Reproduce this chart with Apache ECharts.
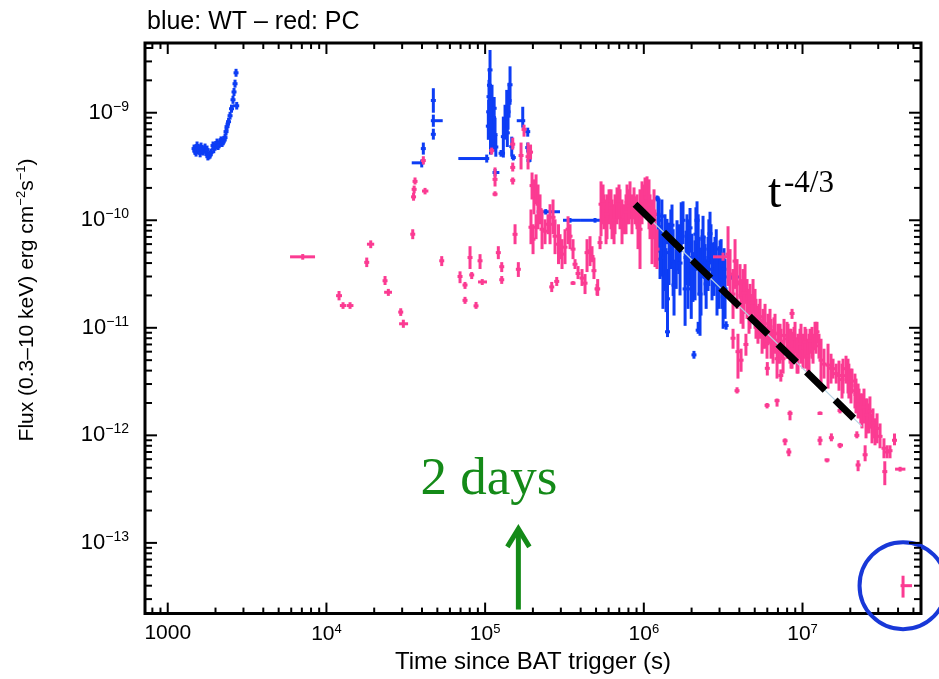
<!DOCTYPE html>
<html><head><meta charset="utf-8">
<script src="https://cdn.jsdelivr.net/npm/echarts@6/dist/echarts.min.js"></script>
<style>html,body{margin:0;padding:0;background:#fff}#c{width:939px;height:679px}</style>
</head><body><div id="c"></div>
<script>
// ---- axis ranges and tick labels ----
const xRange = [719, 5.58e7];
const yRange = [2.2e-14, 4.45e-9];
const xTickExponents = [3, 4, 5, 6, 7];
const yTickExponents = [-13, -12, -11, -10, -9];

// ---- data rows: [time (s), flux, fluxLow, fluxHigh, timeLow, timeHigh] ----
const wtRows = [
 [1465,4.64e-10,4.27e-10,5.06e-10],[1485,4.4e-10,4.05e-10,4.8e-10],[1508,4.26e-10,3.91e-10,4.64e-10],
 [1530,4.95e-10,4.55e-10,5.4e-10],[1555,4.7e-10,4.3e-10,5.1e-10],[1575,4.45e-10,4.09e-10,4.85e-10],
 [1600,4.2e-10,3.85e-10,4.6e-10],[1621,4.84e-10,4.45e-10,5.28e-10],[1645,4.6e-10,4.2e-10,5.0e-10],
 [1669,4.35e-10,4.0e-10,4.74e-10],[1718,4.74e-10,4.36e-10,5.17e-10],[1740,4.3e-10,3.95e-10,4.7e-10],
 [1768,4.54e-10,4.18e-10,4.95e-10],[1790,3.9e-10,3.6e-10,4.25e-10],[1820,4.0e-10,3.68e-10,4.36e-10],
 [1850,4.1e-10,3.75e-10,4.45e-10],[1874,4.26e-10,3.92e-10,4.64e-10],[1929,4.95e-10,4.55e-10,5.4e-10],
 [1950,4.6e-10,4.2e-10,5.0e-10],[1986,4.84e-10,4.45e-10,5.28e-10],[2010,5.0e-10,4.6e-10,5.45e-10],
 [2044,5.28e-10,4.86e-10,5.75e-10],[2075,4.9e-10,4.5e-10,5.35e-10],[2105,5.06e-10,4.66e-10,5.52e-10],
 [2140,5.3e-10,4.85e-10,5.8e-10],[2167,5.52e-10,5.08e-10,6.02e-10],[2200,5.2e-10,4.8e-10,5.65e-10],
 [2231,5.4e-10,4.97e-10,5.89e-10],[2260,5.6e-10,5.15e-10,6.1e-10],[2296,5.87e-10,5.4e-10,6.4e-10],
 [2330,6.67e-10,6.14e-10,7.27e-10],[2364,7.42e-10,6.83e-10,8.09e-10],[2416,8.25e-10,7.59e-10,8.99e-10],
 [2470,9.38e-10,8.63e-10,1.02e-9],[2523,1.089e-9,1.0e-9,1.19e-9],[2578,1.32e-9,1.21e-9,1.44e-9],
 [2616,1.56e-9,1.43e-9,1.70e-9],[2655,1.86e-9,1.71e-9,2.03e-9],[2694,2.35e-9,2.16e-9,2.56e-9],
 [2721,1.16e-9,1.07e-9,1.26e-9,2578,2813],
 [39856,3.42e-10,3.10e-10,3.67e-10,34475,40500],[40793,4.64e-10,4.08e-10,5.28e-10],
 [47170,1.3e-9,1.0e-9,1.69e-9],[47170,8.43e-10,7.4e-10,9.6e-10,46600,54050],[47170,6.3e-10,5.62e-10,7.1e-10],
 [102350,3.75e-10,3.44e-10,4.08e-10,67790,104760],
 [107370,2.5e-9,1.63e-9,3.83e-9],[105820,1.41e-9,9.58e-10,2.02e-9],[105300,1.02e-9,7.74e-10,1.32e-9],
 [104760,7.5e-10,5.6e-10,1.0e-9],[108150,6.26e-10,4.08e-10,9.58e-10],[110500,1.3e-9,8.61e-10,1.82e-9],
 [112150,6.96e-10,4.54e-10,1.066e-9],[113000,9.0e-10,6.5e-10,1.2e-9],[115450,6.26e-10,4.35e-10,8.99e-10],
 [106500,1.8e-9,1.2e-9,2.6e-9],[109300,9.0e-10,6.0e-10,1.3e-9],[111300,5.5e-10,4.3e-10,7.0e-10],
 [114000,1.1e-9,8.0e-10,1.4e-9],[116800,4.8e-10,3.9e-10,6.2e-10],
 [115450,2.78e-10,2.56e-10,3.0e-10,112000,123000],
 [143550,1.82e-9,1.186e-9,2.7e-9],[139440,1.02e-9,6.96e-10,1.47e-9],[133490,8.25e-10,5.62e-10,1.186e-9],
 [136830,1.11e-9,7.26e-10,1.63e-9],[130240,5.99e-10,3.83e-10,9.2e-10],[141500,1.3e-9,9.0e-10,1.9e-9],
 [138000,6.5e-10,4.8e-10,8.5e-10],
 [126000,4.2e-10,3.9e-10,4.5e-10,124130,133490],[147140,4.84e-10,3.91e-10,5.99e-10],
 [150600,3.83e-10,3.6e-10,4.1e-10,147000,155000],[172590,8.43e-10,7.26e-10,1.136e-9,158200,178450],
 [185580,6.67e-10,5.99e-10,7.26e-10],[185580,4.74e-10,4.26e-10,5.28e-10],[189000,3.6e-10,3.45e-10,3.75e-10],
 [240980,1.2e-10,1.13e-10,1.27e-10,211460,296480],
 [342760,1.0e-10,9.5e-11,1.05e-10,309650,396300],[492600,1.0e-10,9.5e-11,1.05e-10,396300,569600],
 [707900,1.29e-10,1.2e-10,1.38e-10,612400,1126400],
 [1.21e6,1.6e-10,1.5e-10,1.7e-10],[1.229e6,1.136e-10,6.67e-11,1.67e-10],[1.265e6,4.35e-11,2.84e-11,6.67e-11],
 [1.30e6,1.09e-10,7.42e-11,1.56e-10],[1.32e6,3.52e-11,1.5e-11,7.11e-11],[1.36e6,7.11e-11,4.35e-11,1.136e-10],
 [1.40e6,8.0e-11,5.99e-11,1.03e-10],[1.41e6,1.86e-11,8.43e-12,3.52e-11],[1.41e6,9.18e-12,8.2e-12,1.0e-11],
 [1.48e6,6.67e-11,3.52e-11,1.26e-10],[1.53e6,4.17e-11,1.98e-11,8.25e-11],[1.60e6,3.52e-11,2.3e-11,5.39e-11],
 [1.66e6,5.39e-11,3.16e-11,9.18e-11],[1.72e6,8.61e-11,5.06e-11,1.47e-10],[1.82e6,2.3e-11,1.043e-11,5.06e-11],
 [1.87e6,7.11e-11,4.35e-11,1.136e-10],[1.92e6,5.39e-11,2.45e-11,1.02e-10],[1.99e6,2.3e-11,1.21e-11,3.91e-11],
 [2.04e6,2.97e-11,1.74e-11,5.06e-11],[2.07e6,5.6e-12,5.16e-12,6.1e-12],[2.13e6,7.42e-11,3.52e-11,1.32e-10],
 [2.20e6,6.67e-11,3.91e-11,1.136e-10],[2.20e6,9.5e-12,8.8e-12,1.136e-11],[2.26e6,2.06e-11,8.43e-12,4.08e-11],
 [2.33e6,5.39e-11,3.52e-11,8.25e-11],[2.40e6,4.5e-11,2.84e-11,7.11e-11],[2.47e6,2.56e-11,1.5e-11,4.35e-11],
 [2.57e6,5.39e-11,2.45e-11,1.02e-10],[2.65e6,5.99e-11,3.91e-11,9.18e-11],[2.77e6,3.67e-11,1.98e-11,6.26e-11],
 [2.86e6,5.39e-11,3.52e-11,8.25e-11],[2.98e6,3.1e-11,1.5e-11,5.74e-11],[3.07e6,4.08e-11,2.3e-11,6.67e-11],
 [3.16e6,1.94e-11,9.79e-12,3.52e-11],[3.25e6,2.3e-11,1.21e-11,4.35e-11],[3.30e6,1.05e-11,9.6e-12,1.15e-11],
 [1.247e6,1.0e-10,5.0e-11,1.6e-10],[1.284e6,5.5e-11,3.0e-11,9.0e-11],[1.341e6,4.5e-11,2.2e-11,8.0e-11],
 [1.380e6,3.0e-11,1.4e-11,5.5e-11],[1.442e6,5.0e-11,2.5e-11,9.5e-11],[1.505e6,9.0e-11,5.5e-11,1.4e-10],
 [1.550e6,2.5e-11,1.3e-11,4.2e-11],[1.619e6,6.0e-11,3.5e-11,1.0e-10],[1.691e6,4.0e-11,2.0e-11,7.0e-11],
 [1.766e6,1.0e-10,6.0e-11,1.5e-10],[1.845e6,4.5e-11,2.5e-11,8.0e-11],[1.899e6,3.0e-11,1.5e-11,5.5e-11],
 [1.955e6,8.5e-11,5.0e-11,1.3e-10],[2.012e6,4.5e-11,2.5e-11,7.5e-11],[2.102e6,3.5e-11,1.8e-11,6.5e-11],
 [2.164e6,1.0e-10,6.0e-11,1.5e-10],[2.227e6,4.0e-11,2.0e-11,7.0e-11],[2.293e6,3.0e-11,1.3e-11,5.5e-11],
 [2.361e6,7.0e-11,4.0e-11,1.1e-10],[2.430e6,3.5e-11,2.0e-11,6.0e-11],[2.539e6,4.0e-11,2.2e-11,7.0e-11],
 [2.613e6,7.5e-11,4.5e-11,1.2e-10],[2.690e6,3.5e-11,1.8e-11,6.0e-11],[2.809e6,4.5e-11,2.6e-11,7.0e-11],
 [2.892e6,2.5e-11,1.3e-11,4.5e-11],[3.022e6,4.5e-11,2.8e-11,6.5e-11],[3.111e6,2.8e-11,1.5e-11,5.0e-11],
 [3.202e6,3.5e-11,2.0e-11,5.5e-11],
 [3.6e6,2.97e-11,2.8e-11,3.15e-11,3.3e6,4.1e6]
];

const pcRows = [
 [7090,4.57e-11,4.3e-11,4.85e-11,5898,8477],[12008,1.99e-11,1.8e-11,2.2e-11,11500,12540],
 [12722,1.61e-11,1.5e-11,1.73e-11,12150,13300],[14085,1.61e-11,1.5e-11,1.73e-11,13400,14800],
 [19015,5.99e-11,5.5e-11,6.5e-11,18000,20000],[17947,4.06e-11,3.67e-11,4.5e-11],
 [23405,2.74e-11,2.5e-11,3.03e-11],[24552,2.14e-11,1.98e-11,2.3e-11,23100,25900],
 [29390,1.40e-11,1.29e-11,1.52e-11],[30519,1.09e-11,1.0e-11,1.19e-11,28700,32700],
 [34980,7.42e-11,6.67e-11,8.25e-11],[36165,2.3e-10,2.15e-10,2.5e-10],[35700,1.94e-10,1.78e-10,2.1e-10],
 [35400,1.65e-10,1.52e-10,1.8e-10],[41822,1.87e-10,1.74e-10,2.0e-10,40000,43900],
 [40793,3.59e-10,3.30e-10,3.94e-10],[53270,4.2e-11,3.75e-11,4.64e-11],[69480,3.0e-11,2.6e-11,3.35e-11],
 [74680,2.5e-11,2.3e-11,2.67e-11],[74680,1.8e-11,1.67e-11,1.94e-11],[80320,4.5e-11,3.52e-11,5.74e-11],
 [82330,3.1e-11,2.84e-11,3.3e-11],[87640,1.6e-11,1.5e-11,1.74e-11],[92880,4.2e-11,3.52e-11,4.84e-11],
 [95900,2.67e-11,2.5e-11,2.84e-11,90220,102800],[110000,4.45e-10,4.08e-10,4.74e-10],
 [115450,2.4e-10,2.06e-10,3.1e-10],[115450,1.75e-10,1.67e-10,1.86e-10],[121110,5.0e-11,4.35e-11,5.74e-11],
 [127240,3.7e-11,3.3e-11,4.08e-11],[127240,2.8e-11,2.56e-11,3.03e-11],[149290,5.1e-10,4.54e-10,5.87e-10],
 [149290,3.1e-10,2.84e-10,3.44e-10],[149290,2.35e-10,2.15e-10,2.5e-10],[154350,7.4e-11,5.99e-11,9.18e-11],
 [161930,3.5e-11,2.97e-11,4.08e-11],[168400,4.0e-10,2.97e-10,5.28e-10],[175880,7.0e-10,5.99e-10,7.74e-10],
 [186400,3.9e-10,2.97e-10,5.28e-10],[193300,4.3e-10,3.67e-10,5.06e-10],
 [197540,2.1e-10,1.56e-10,2.78e-10],[203000,1.67e-10,1.136e-10,2.4e-10],[209400,1.94e-10,1.41e-10,2.67e-10],
 [215480,1.41e-10,8.25e-11,2.15e-10],[221830,1.26e-10,9.18e-11,1.74e-10],[194500,8.61e-11,5.99e-11,1.26e-10],
 [200420,6.67e-11,4.84e-11,9.18e-11],[209400,8.61e-11,6.67e-11,1.136e-10],[228360,8.25e-11,5.39e-11,1.26e-10],
 [238520,7.91e-11,5.99e-11,1.02e-10],[249100,9.18e-11,7.42e-11,1.136e-10],[256450,9.18e-11,5.99e-11,1.41e-10],
 [262850,2.4e-11,2.15e-11,2.67e-11],[267860,1.066e-10,7.42e-11,1.56e-10],[275740,7.11e-11,4.84e-11,1.02e-10],
 [282620,2.7e-11,2.45e-11,2.97e-11],[290000,5.99e-11,3.91e-11,9.18e-11],[296480,5.62e-11,4.35e-11,7.42e-11],
 [305190,4.84e-11,3.52e-11,6.67e-11],[318750,5.62e-11,3.91e-11,8.25e-11],[333000,8.25e-11,5.99e-11,1.089e-10],
 [342760,7.11e-11,5.39e-11,9.18e-11],[358020,5.39e-11,4.35e-11,6.67e-11],[358020,2.6e-11,2.5e-11,2.72e-11],
 [368560,3.9e-11,3.52e-11,4.35e-11],[385000,3.2e-11,2.84e-11,3.75e-11],[407960,2.9e-11,2.45e-11,3.52e-11],
 [426100,2.6e-11,2.06e-11,3.16e-11],[438700,5.0e-11,3.3e-11,6.67e-11],[458100,5.2e-11,3.75e-11,7.11e-11],
 [471600,4.6e-11,4.08e-11,5.74e-11],[485000,3.4e-11,2.84e-11,4.5e-11],[507100,2.3e-11,2.0e-11,2.56e-11],
 [512000,2.3e-11,1.98e-11,2.84e-11],[529700,6.2e-11,5.39e-11,7.11e-11],
 [537500,1.41e-10,7.11e-11,2.3e-10],[561000,1.21e-10,8.25e-11,1.74e-10],[578000,1.02e-10,5.99e-11,1.56e-10],
 [603600,1.41e-10,9.18e-11,1.94e-10],[630400,1.066e-10,6.67e-11,1.56e-10],[658400,1.186e-10,7.42e-11,1.74e-10],
 [678000,1.41e-10,9.18e-11,2.02e-10],[707900,1.32e-10,8.25e-11,1.94e-10],[728800,1.02e-10,5.99e-11,1.56e-10],
 [750000,1.066e-10,7.42e-11,1.41e-10],[784000,1.47e-10,9.18e-11,2.15e-10],[818500,1.56e-10,1.02e-10,2.3e-10],
 [842600,1.136e-10,7.42e-11,1.74e-10],[880100,1.26e-10,9.18e-11,1.67e-10],[919200,9.18e-11,5.39e-11,1.41e-10],
 [946200,8.25e-11,3.52e-11,1.94e-10],[988000,1.56e-10,1.136e-10,2.15e-10],[1.0176e6,1.74e-10,1.26e-10,2.5e-10],
 [1.0476e6,1.6e-10,1.02e-10,2.56e-10],[1.0941e6,1.136e-10,6.67e-11,1.74e-10],[1.1264e6,8.25e-11,3.91e-11,1.56e-10],
 [1.1764e6,7.42e-11,3.67e-11,1.26e-10],[1.2111e6,5.39e-11,3.52e-11,8.25e-11],
 [5.533e5,1.41e-10,9.18e-11,2.15e-10],[5.862e5,1.15e-10,6.67e-11,1.74e-10],[6.215e5,1.3e-10,8.25e-11,1.94e-10],
 [6.49e5,1.0e-10,5.99e-11,1.41e-10],[6.978e5,1.5e-10,1.02e-10,2.15e-10],[7.724e5,1.2e-10,7.42e-11,1.74e-10],
 [8.068e5,1.35e-10,9.18e-11,1.94e-10],[8.675e5,1.45e-10,1.02e-10,2.02e-10],[9.06e5,1.2e-10,8.25e-11,1.74e-10],
 [9.743e5,1.5e-10,9.18e-11,2.3e-10],[1.0784e6,1.4e-10,8.25e-11,2.4e-10],[1.1596e6,1.15e-10,6.67e-11,1.94e-10],
 [3.1563e6,4.57e-11,4.2e-11,5.0e-11,2.729e6,3.345e6],
 [3.394e6,4.84e-11,2.45e-11,8.8e-11],[3.494e6,3.16e-11,1.86e-11,5.39e-11],[3.649e6,2.06e-11,1.21e-11,3.52e-11],
 [3.757e6,4.17e-11,2.3e-11,6.67e-11],[3.867e6,2.56e-11,1.5e-11,4.35e-11],[4.039e6,2.67e-11,1.86e-11,3.91e-11],
 [4.219e6,1.86e-11,9.79e-12,3.52e-11],[4.343e6,2.56e-11,1.67e-11,3.91e-11],[4.471e6,1.86e-11,1.21e-11,2.84e-11],
 [4.67e6,1.67e-11,9.79e-12,2.56e-11],[4.878e6,1.98e-11,1.35e-11,2.84e-11],[5.021e6,1.5e-11,9.79e-12,2.3e-11],
 [3.649e6,8.0e-12,6.39e-12,9.79e-12],[3.92e6,6.0e-12,3.37e-12,8.8e-12],[4.1e6,5.0e-12,3.9e-12,6.4e-12],
 [4.4e6,7.0e-12,5.5e-12,8.8e-12],[3.867e6,2.6e-12,2.45e-12,2.8e-12,3.75e6,4.0e6],
 [4.098e6,2.0e-11,1.09e-11,2.84e-11],[4.28e6,2.1e-11,1.35e-11,2.56e-11],[4.601e6,1.6e-11,8.8e-12,2.3e-11],
 [4.806e6,1.7e-11,1.21e-11,2.06e-11],[5.093e6,1.3e-11,7.91e-12,1.86e-11],[5.32e6,1.25e-11,8.8e-12,1.67e-11],
 [5.639e6,1.0e-11,6.39e-12,1.5e-11],[6.062e6,1.0e-11,7.11e-12,1.35e-11],[6.331e6,8.0e-12,5.16e-12,1.21e-11],
 [6.613e6,9.0e-12,6.39e-12,1.25e-11],[7.008e6,7.0e-12,4.64e-12,1.09e-11],[7.32e6,7.5e-12,5.16e-12,9.79e-12],
 [7.646e6,8.5e-12,5.74e-12,1.21e-11],[8.103e6,7.5e-12,5.16e-12,1.09e-11],[8.465e6,6.5e-12,4.17e-12,9.79e-12],
 [8.841e6,7.0e-12,5.16e-12,1.02e-11],[9.369e6,6.0e-12,3.75e-12,8.8e-12],[9.784e6,7.5e-12,4.64e-12,1.09e-11],
 [1.052e7,6.5e-12,4.17e-12,9.79e-12],[1.099e7,6.0e-12,3.9e-12,8.8e-12],[1.148e7,7.0e-12,5.16e-12,1.02e-11],
 [1.216e7,8.0e-12,5.74e-12,1.136e-11],[1.308e7,5.0e-12,3.03e-12,7.91e-12],[1.366e7,4.6e-12,3.37e-12,6.39e-12],
 [1.448e7,4.5e-12,2.72e-12,7.11e-12],[1.512e7,4.2e-12,3.03e-12,5.74e-12],[1.698e7,3.6e-12,2.6e-12,4.95e-12],
 [1.774e7,3.3e-12,2.2e-12,4.64e-12],[1.935e7,3.6e-12,2.45e-12,5.16e-12],[2.021e7,2.9e-12,1.98e-12,4.17e-12],
 [2.173e7,2.4e-12,1.6e-12,3.37e-12],[2.27e7,2.0e-12,1.44e-12,2.72e-12],[2.371e7,1.8e-12,1.16e-12,2.45e-12],
 [2.513e7,1.5e-12,9.38e-13,2.2e-12],[2.624e7,1.5e-12,1.043e-12,1.98e-12],[2.741e7,1.2e-12,8.43e-13,1.6e-12],
 [2.864e7,1.1e-12,8.08e-13,1.44e-12],
 [5.24e6,1.09e-11,7.11e-12,1.6e-11],[5.4e6,1.27e-11,7.91e-12,1.86e-11],[5.56e6,8.43e-12,5.74e-12,1.21e-11],
 [5.806e6,1.09e-11,6.39e-12,1.67e-11],[5.977e6,7.11e-12,5.16e-12,9.79e-12],[6.24e6,1.02e-11,7.11e-12,1.5e-11],
 [6.52e6,6.6e-12,4.64e-12,9.79e-12],[6.71e6,8.8e-12,5.74e-12,1.35e-11],[6.91e6,5.16e-12,3.37e-12,7.91e-12],
 [7.22e6,7.11e-12,4.64e-12,1.09e-11],[7.54e6,5.16e-12,3.75e-12,7.11e-12],[7.99e6,7.91e-12,5.16e-12,1.136e-11],
 [8.34e6,7.11e-12,4.64e-12,9.79e-12],[8.59e6,1.36e-11,1.21e-11,1.5e-11],[8.59e6,6.39e-12,4.17e-12,9.18e-12],
 [8.97e6,7.91e-12,5.74e-12,1.136e-11],[9.24e6,5.5e-12,3.75e-12,7.91e-12],[9.65e6,7.11e-12,5.16e-12,9.79e-12],
 [1.007e7,6.1e-12,4.17e-12,8.8e-12],[1.037e7,7.42e-12,5.16e-12,1.02e-11],[1.08e7,5.5e-12,3.75e-12,7.91e-12],
 [1.115e7,7.6e-12,5.74e-12,9.79e-12],[1.165e7,6.39e-12,4.64e-12,8.8e-12],[1.199e7,8.43e-12,6.39e-12,1.136e-11],
 [1.234e7,9.18e-12,7.11e-12,1.136e-11],[1.27e7,6.8e-12,5.16e-12,8.8e-12],
 [6.0e6,4.2e-12,3.6e-12,4.8e-12],[7.3e6,3.6e-12,3.16e-12,4.1e-12],
 [1.557e7,4.17e-12,3.37e-12,5.16e-12],[1.63e7,3.75e-12,3.03e-12,4.64e-12],[1.8e7,3.59e-12,2.45e-12,5.16e-12],
 [1.88e7,4.17e-12,3.03e-12,5.5e-12],[1.96e7,3.16e-12,2.2e-12,4.64e-12],[2.05e7,3.2e-12,2.45e-12,4.17e-12],
 [2.14e7,2.6e-12,1.78e-12,3.75e-12],[2.24e7,2.1e-12,1.44e-12,3.03e-12],[2.33e7,1.78e-12,1.29e-12,2.45e-12],
 [2.44e7,1.85e-12,1.29e-12,2.72e-12],[2.55e7,1.55e-12,1.043e-12,2.2e-12],[2.66e7,1.67e-12,1.16e-12,2.3e-12],
 [2.78e7,1.29e-12,9.38e-13,1.78e-12],[2.95e7,1.16e-12,8.43e-13,1.6e-12],[3.08e7,9.79e-13,7.58e-13,1.29e-12],
 [3.26e7,7.58e-13,6.12e-13,9.38e-13],[3.41e7,7.0e-13,6.12e-13,8.08e-13],[3.3e7,4.6e-13,3.44e-13,5.74e-13],
 [3.8e7,9.0e-13,8.08e-13,1.04e-12],[3.56e7,7.2e-13,6.12e-13,8.08e-13],
 [4.12e7,4.85e-13,4.6e-13,5.1e-13,3.83e7,4.45e7],[2.48e7,6.6e-13,5.74e-13,8.08e-13],
 [2.24e7,5.3e-13,4.64e-13,5.87e-13],[2.2e7,1.0e-12,9.38e-13,1.09e-12],
 [5.98e6,1.9e-12,1.78e-12,2.0e-12],[6.91e6,2.1e-12,1.85e-12,2.2e-12],
 [7.76e6,8.9e-13,8.08e-13,9.38e-13,7.5e6,8.05e6],[8.2e6,7.0e-13,6.39e-13,7.58e-13],
 [8.34e6,1.6e-12,1.38e-12,1.7e-12],[1.289e7,9.0e-13,8.08e-13,9.79e-13],[1.289e7,1.6e-12,1.55e-12,1.67e-12],
 [1.427e7,5.9e-13,5.6e-13,6.1e-13,1.38e7,1.48e7],[1.52e7,9.5e-13,8.8e-13,1.043e-12],
 [1.723e7,8.1e-13,7.6e-13,8.5e-13,1.66e7,1.8e7],[1.723e7,1.7e-12,1.6e-12,1.78e-12],
 [4.3e7,4.0e-14,3.1e-14,4.95e-14,4.3e7,4.9e7]
];

// ---- annotations ----
const fitTime = [8.8e5, 2.37e7];
const fitFlux = [1.41e-10, 1.21e-12];
const arrowTime = 1.62e5;
const arrowFlux = [2.4e-14, 1.41e-13];
const circledPoint = [4.3e7, 4.0e-14];

const BLUE = '#0d3df5', PINK = '#fb3b92', GREEN = '#148a18';
const pad = r => r.length >= 6 ? r : r.concat([null, null]);

function errRender(color) {
  return function (params, api) {
    const t = api.value(0), f = api.value(1), lo = api.value(2), hi = api.value(3);
    const tl = api.value(4), th = api.value(5);
    const c = api.coord([t, f]), a = api.coord([t, hi]), b = api.coord([t, lo]);
    let x1 = c[0] - 2.5, x2 = c[0] + 2.5;
    if (isFinite(tl) && tl > 0 && isFinite(th) && th > 0) {
      x1 = Math.min(x1, api.coord([tl, f])[0]);
      x2 = Math.max(x2, api.coord([th, f])[0]);
    }
    return { type: 'group', children: [
      { type: 'line', shape: { x1: a[0], y1: a[1], x2: b[0], y2: b[1] }, style: { stroke: color, lineWidth: 3 } },
      { type: 'line', shape: { x1: x1, y1: c[1], x2: x2, y2: c[1] }, style: { stroke: color, lineWidth: 3 } }
    ]};
  };
}

function tickRender(params, api) {
  const cs = params.coordSys;
  const L = cs.x, R = cs.x + cs.width, T = cs.y, B = cs.y + cs.height;
  const ch = [];
  const st = { stroke: '#000', lineWidth: 2 };
  for (let e = 2; e <= 7; e++) for (let k = 1; k <= 9; k++) {
    const v = k * Math.pow(10, e);
    if (v < xRange[0] || v > xRange[1]) continue;
    const x = api.coord([v, 1e-11])[0];
    const len = k === 1 ? 11 : 6;
    ch.push({ type: 'line', shape: { x1: x, y1: B, x2: x, y2: B - len }, style: st });
    ch.push({ type: 'line', shape: { x1: x, y1: T, x2: x, y2: T + len }, style: st });
  }
  for (let e = -14; e <= -9; e++) for (let k = 1; k <= 9; k++) {
    const v = k * Math.pow(10, e);
    if (v < yRange[0] || v > yRange[1]) continue;
    const y = api.coord([1e5, v])[1];
    const len = k === 1 ? 12 : 7;
    ch.push({ type: 'line', shape: { x1: L, y1: y, x2: L + len, y2: y }, style: st });
    ch.push({ type: 'line', shape: { x1: R, y1: y, x2: R - len, y2: y }, style: st });
  }
  return { type: 'group', children: ch };
}

function expOf(v) {
  const l = Math.log10(v), r = Math.round(l);
  return Math.abs(l - r) < 1e-6 ? r : null;
}

const chart = echarts.init(document.getElementById('c'), null, { renderer: 'canvas' });
const FONT = 'Liberation Sans';
chart.setOption({
  animation: false,
  backgroundColor: '#fff',
  textStyle: { fontFamily: FONT },
  grid: { left: 145, right: 18, top: 43, bottom: 63, show: true, borderColor: '#000', borderWidth: 3 },
  xAxis: {
    type: 'log', logBase: 10, min: xRange[0], max: xRange[1],
    axisLine: { show: false }, axisTick: { show: false }, splitLine: { show: false },
    name: 'Time since BAT trigger (s)', nameLocation: 'middle', nameGap: 33,
    nameTextStyle: { fontSize: 24, color: '#000', fontFamily: FONT },
    axisLabel: {
      margin: 9, color: '#000',
      formatter: v => { const e = expOf(v); if (e === null || xTickExponents.indexOf(e) < 0) return ''; return e === 3 ? '{b|1000}' : '{b|10}{s|' + e + '}'; },
      rich: { b: { fontSize: 21, fontFamily: FONT, color: '#000' }, s: { fontSize: 13, fontFamily: FONT, color: '#000', padding: [0, 0, 11, 0] } }
    }
  },
  yAxis: {
    type: 'log', logBase: 10, min: yRange[0], max: yRange[1],
    axisLine: { show: false }, axisTick: { show: false }, splitLine: { show: false },
    axisLabel: {
      margin: 16, color: '#000',
      formatter: v => { const e = expOf(v); if (e === null || yTickExponents.indexOf(e) < 0) return ''; return '{b|10}{s|\u2212' + (-e) + '}'; },
      rich: { b: { fontSize: 22, fontFamily: FONT, color: '#000' }, s: { fontSize: 14, fontFamily: FONT, color: '#000', padding: [0, 0, 12, 0] } }
    }
  },
  graphic: [
    { type: 'text', x: 147, y: 22, style: { text: 'blue: WT \u2013 red: PC', fontSize: 25, fontFamily: FONT, fill: '#000', align: 'left', verticalAlign: 'middle' } },
    { type: 'text', x: 27, y: 300, rotation: Math.PI / 2, style: {
        text: 'Flux (0.3\u201310 keV) erg cm{s|\u22122}s{s|\u22121})', fontSize: 21, fontFamily: FONT, fill: '#000',
        align: 'center', verticalAlign: 'middle',
        rich: { s: { fontSize: 13, fontFamily: FONT, fill: '#000', padding: [0, 0, 11, 0] } } } },
    { type: 'text', x: 489, y: 480, style: { text: '2 days', fontSize: 53, fontFamily: 'Liberation Serif', fill: GREEN, align: 'center', verticalAlign: 'middle' } },
    { type: 'text', x: 768, y: 194, style: { text: 't', fontSize: 48, fontFamily: 'Liberation Serif', fill: '#000', align: 'left', verticalAlign: 'middle' } },
    { type: 'text', x: 784, y: 184, style: { text: '-4/3', fontSize: 31, fontFamily: 'Liberation Serif', fill: '#000', align: 'left', verticalAlign: 'middle' } }
  ],
  series: [
    { type: 'custom', name: 'WT', renderItem: errRender(BLUE), dimensions: ['t', 'f', 'fLo', 'fHi', 'tLo', 'tHi'], encode: { x: 0, y: 1 }, data: wtRows.map(pad), z: 2 },
    { type: 'custom', name: 'PC', renderItem: errRender(PINK), dimensions: ['t', 'f', 'fLo', 'fHi', 'tLo', 'tHi'], encode: { x: 0, y: 1 }, data: pcRows.map(pad), z: 3 },
    { type: 'line', name: 'model', data: fitTime.map((t, i) => [t, fitFlux[i]]), symbol: 'none', lineStyle: { color: '#b5d3e3', width: 1.2 }, z: 4 },
    { type: 'line', name: 'fit', data: fitTime.map((t, i) => [t, fitFlux[i]]), symbol: 'none', lineStyle: { color: '#000', width: 7, type: [26, 14] }, z: 5 },
    { type: 'custom', name: 'arrow', z: 6, data: [[arrowTime, arrowFlux[0], arrowFlux[1]]], encode: { x: 0, y: 1 },
      renderItem: (params, api) => {
        const b = api.coord([api.value(0), api.value(1)]), tip = api.coord([api.value(0), api.value(2)]);
        return { type: 'group', children: [
          { type: 'line', shape: { x1: b[0], y1: b[1], x2: tip[0], y2: tip[1] + 3 }, style: { stroke: GREEN, lineWidth: 5 } },
          { type: 'polyline', shape: { points: [[tip[0] - 11, tip[1] + 20], [tip[0], tip[1] + 2], [tip[0] + 11, tip[1] + 20]] }, style: { stroke: GREEN, lineWidth: 5, fill: null, lineJoin: 'miter' } }
        ]};
      } },
    { type: 'custom', name: 'circle', z: 6, data: [circledPoint], encode: { x: 0, y: 1 },
      renderItem: (params, api) => {
        const c = api.coord([api.value(0), api.value(1)]);
        return { type: 'circle', shape: { cx: c[0], cy: c[1], r: 43.5 }, style: { fill: null, stroke: '#1838d8', lineWidth: 4 } };
      } },
    { type: 'custom', name: 'ticks', z: 7, data: [[1e5, 1e-11]], encode: { x: 0, y: 1 }, renderItem: tickRender, silent: true }
  ]
});
</script>
</body></html>
